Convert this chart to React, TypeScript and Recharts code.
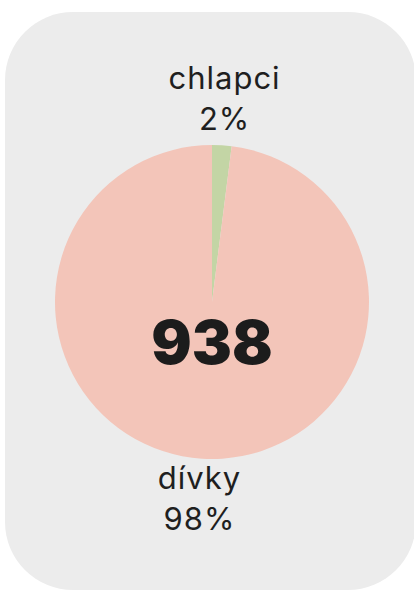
import { PieChart, Pie, Cell, Label } from 'recharts';

const NAMES = ['chlapci', 'dívky'];
const SHARES = [2, 98];
const COLORS = ['#c3d5a5', '#f3c5b9'];
const TOTAL = '938';

const DATA = NAMES.map((name, i) => ({ name, value: SHARES[i] }));

const CX = 212;
const CY = 302;
const RAD = Math.PI / 180;

const renderLabel = (props: any) => {
    const { cx, cy, midAngle, name, value } = props;
    const r = 200;
    const x = cx + r * Math.cos(-midAngle * RAD);
    const y = cy + r * Math.sin(-midAngle * RAD);
    return (
        <text x={x} y={y} textAnchor="middle" fill="#1f1f1f" fontFamily="Inter" fontSize={31} letterSpacing={1}>
            <tspan x={x} y={y - 13}>{name}</tspan>
            <tspan x={x} y={y + 28}>{value}%</tspan>
        </text>
    );
};

export default function App() {
    return (
        <div style={{ position: 'absolute', left: 0, top: 0, width: 414, height: 592, background: '#fff', overflow: 'hidden' }}>
            <div style={{ position: 'absolute', left: 5, top: 12, width: 411, height: 578, borderRadius: 68, background: '#ececec' }} />
            <div style={{ position: 'absolute', left: 0, top: 0 }}>
                <PieChart width={414} height={592} margin={{ top: 0, right: 0, bottom: 0, left: 0 }}>
                    <Pie
                        data={DATA}
                        dataKey="value"
                        nameKey="name"
                        cx={CX}
                        cy={CY}
                        outerRadius={157}
                        startAngle={90}
                        endAngle={-270}
                        stroke="none"
                        label={renderLabel}
                        labelLine={false}
                        isAnimationActive={false}
                    >
                        {DATA.map((d, i) => (
                            <Cell key={d.name} fill={COLORS[i]} />
                        ))}
                        <Label
                            position="center"
                            content={() => (
                                <text x={CX} y={CY + 62} textAnchor="middle" fill="#1c1c1c" fontFamily="Inter" fontWeight={900} fontSize={60}>
                                    {TOTAL}
                                </text>
                            )}
                        />
                    </Pie>
                </PieChart>
            </div>
        </div>
    );
}
